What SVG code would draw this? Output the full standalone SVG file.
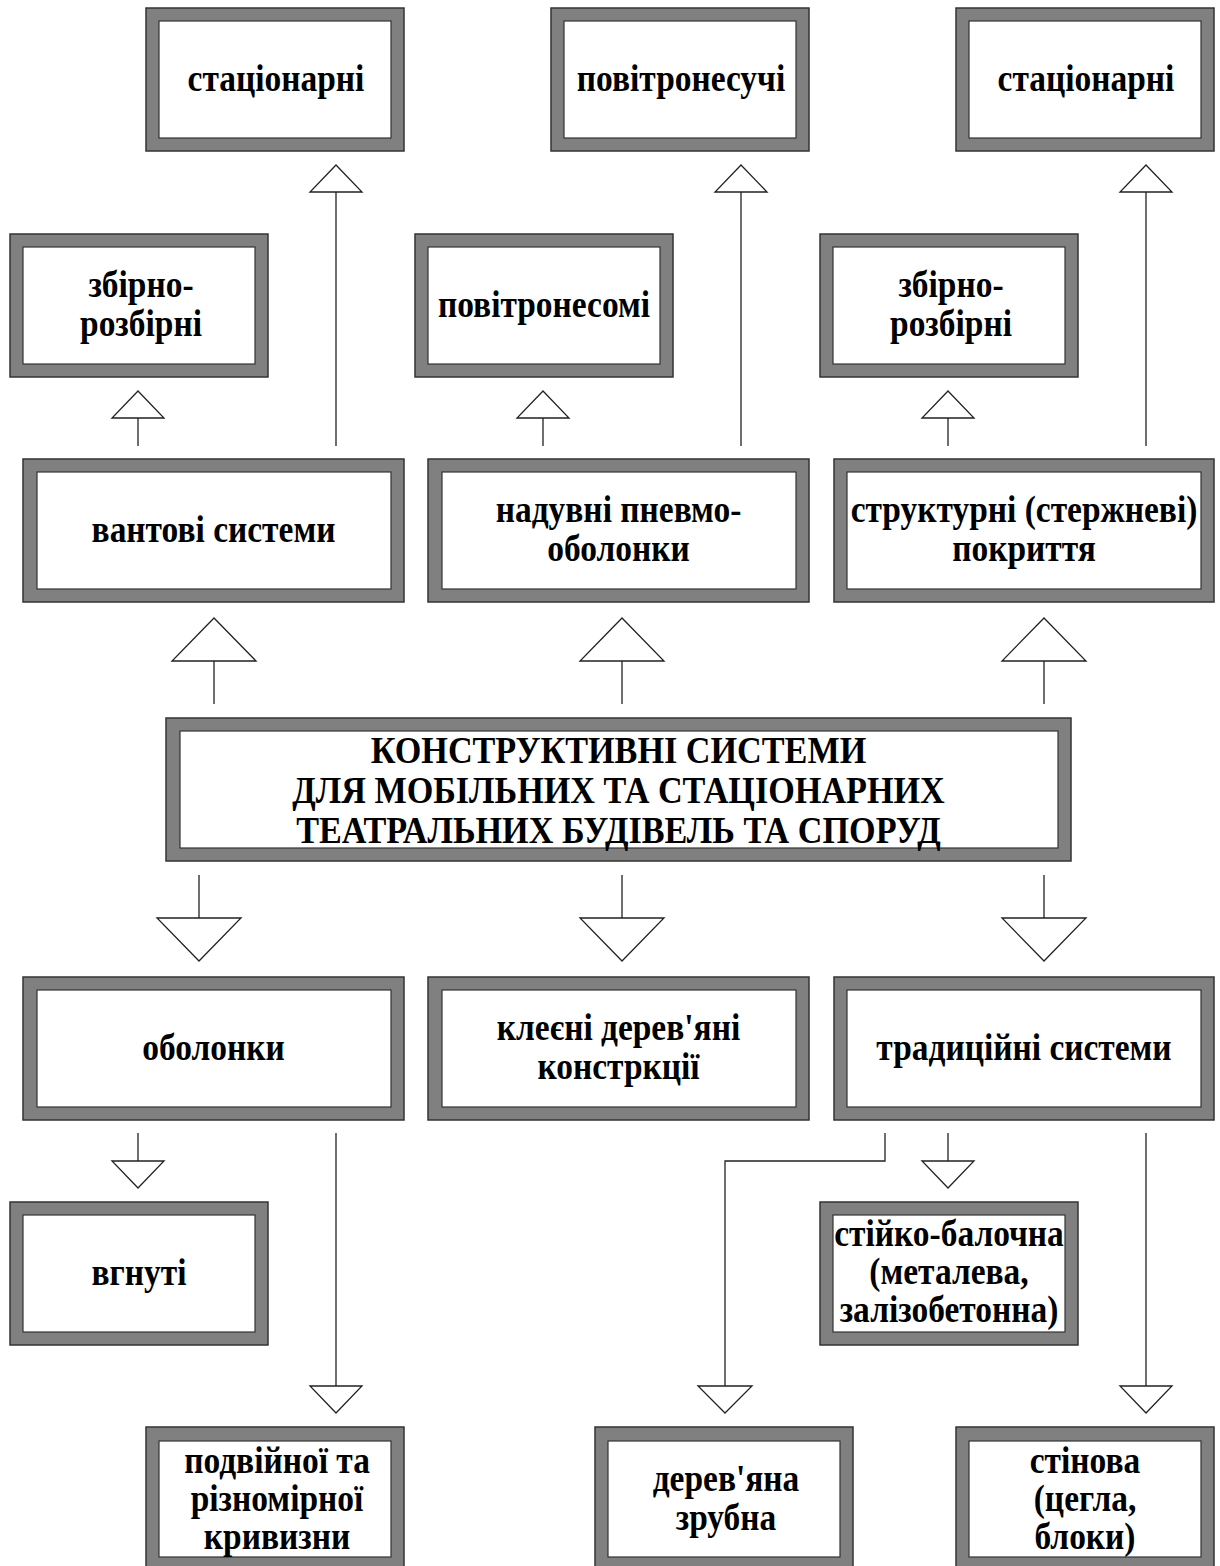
<svg xmlns="http://www.w3.org/2000/svg" width="1220" height="1566" viewBox="0 0 1220 1566">
<style>
.o{fill:#808080;stroke:#333;stroke-width:1.5}
.i{fill:#fff;stroke:#333;stroke-width:1.2}
.t{font-family:"Liberation Serif","Times New Roman",serif;font-weight:bold;font-size:38px;text-anchor:middle;fill:#000}
.l{fill:none;stroke:#222;stroke-width:1.3}
.a{fill:#fff;stroke:#222;stroke-width:1.3;stroke-linejoin:miter}
</style>
<rect width="1220" height="1566" fill="#fff"/>
<g id="connectors">
<path class="l" d="M336 446V192M741 446V192M1146 446V192"/>
<polygon class="a" points="336,165 362,192 310,192"/>
<polygon class="a" points="741,165 767,192 715,192"/>
<polygon class="a" points="1146,165 1172,192 1120,192"/>
<path class="l" d="M138 446V418M543 446V418M948 446V418"/>
<polygon class="a" points="138,391 164,418 112,418"/>
<polygon class="a" points="543,391 569,418 517,418"/>
<polygon class="a" points="948,391 974,418 922,418"/>
<path class="l" d="M214 704V661M622 704V661M1044 704V661"/>
<polygon class="a" points="214,618 256,661 172,661"/>
<polygon class="a" points="622,618 664,661 580,661"/>
<polygon class="a" points="1044,618 1086,661 1002,661"/>
<path class="l" d="M199 875V918M622 875V918M1044 875V918"/>
<polygon class="a" points="157,918 241,918 199,961"/>
<polygon class="a" points="580,918 664,918 622,961"/>
<polygon class="a" points="1002,918 1086,918 1044,961"/>
<path class="l" d="M138 1133V1161M336 1133V1386M885 1133V1161H725V1386M948 1133V1161M1146 1133V1386"/>
<polygon class="a" points="112,1161 164,1161 138,1188"/>
<polygon class="a" points="310,1386 362,1386 336,1413"/>
<polygon class="a" points="698,1386 752,1386 725,1413"/>
<polygon class="a" points="922,1161 974,1161 948,1188"/>
<polygon class="a" points="1120,1386 1172,1386 1146,1413"/>
</g>
<g id="n1"><rect class="o" x="146" y="8" width="258" height="143"/><rect class="i" x="159" y="21" width="232" height="117"/><text class="t" transform="translate(276 0) scale(0.88 1)" y="91">стаціонарні</text></g>
<g id="n2"><rect class="o" x="551" y="8" width="258" height="143"/><rect class="i" x="564" y="21" width="232" height="117"/><text class="t" transform="translate(681 0) scale(0.88 1)" y="91">повітронесучі</text></g>
<g id="n3"><rect class="o" x="956" y="8" width="258" height="143"/><rect class="i" x="969" y="21" width="232" height="117"/><text class="t" transform="translate(1086 0) scale(0.88 1)" y="91">стаціонарні</text></g>
<g id="n4"><rect class="o" x="10" y="234" width="258" height="143"/><rect class="i" x="23" y="247" width="232" height="117"/><text class="t" transform="translate(141 0) scale(0.88 1)"><tspan x="0" y="297">збірно-</tspan><tspan x="0" y="336">розбірні</tspan></text></g>
<g id="n5"><rect class="o" x="415" y="234" width="258" height="143"/><rect class="i" x="428" y="247" width="232" height="117"/><text class="t" transform="translate(544 0) scale(0.88 1)" y="317">повітронесомі</text></g>
<g id="n6"><rect class="o" x="820" y="234" width="258" height="143"/><rect class="i" x="833" y="247" width="232" height="117"/><text class="t" transform="translate(951 0) scale(0.88 1)"><tspan x="0" y="297">збірно-</tspan><tspan x="0" y="336">розбірні</tspan></text></g>
<g id="n7"><rect class="o" x="23" y="459" width="381" height="143"/><rect class="i" x="37" y="472" width="354" height="117"/><text class="t" transform="translate(213.5 0) scale(0.88 1)" y="542">вантові системи</text></g>
<g id="n8"><rect class="o" x="428" y="459" width="381" height="143"/><rect class="i" x="442" y="472" width="354" height="117"/><text class="t" transform="translate(618.5 0) scale(0.88 1)"><tspan x="0" y="522">надувні пневмо-</tspan><tspan x="0" y="561">оболонки</tspan></text></g>
<g id="n9"><rect class="o" x="834" y="459" width="380" height="143"/><rect class="i" x="847" y="472" width="354" height="117"/><text class="t" transform="translate(1024 0) scale(0.88 1)"><tspan x="0" y="522">структурні (стержневі)</tspan><tspan x="0" y="561">покриття</tspan></text></g>
<g id="center"><rect class="o" x="166" y="718" width="905" height="143"/><rect class="i" x="180" y="731" width="878" height="117"/><text class="t" transform="translate(618.5 0) scale(0.9 1)"><tspan x="0" y="763">КОНСТРУКТИВНІ СИСТЕМИ</tspan><tspan x="0" y="803">ДЛЯ МОБІЛЬНИХ ТА СТАЦІОНАРНИХ</tspan><tspan x="0" y="843">ТЕАТРАЛЬНИХ БУДІВЕЛЬ ТА СПОРУД</tspan></text></g>
<g id="n10"><rect class="o" x="23" y="977" width="381" height="143"/><rect class="i" x="37" y="990" width="354" height="117"/><text class="t" transform="translate(213.5 0) scale(0.88 1)" y="1060">оболонки</text></g>
<g id="n11"><rect class="o" x="428" y="977" width="381" height="143"/><rect class="i" x="442" y="990" width="354" height="117"/><text class="t" transform="translate(618.5 0) scale(0.88 1)"><tspan x="0" y="1040">клеєні дерев'яні</tspan><tspan x="0" y="1079">констркції</tspan></text></g>
<g id="n12"><rect class="o" x="834" y="977" width="380" height="143"/><rect class="i" x="847" y="990" width="354" height="117"/><text class="t" transform="translate(1024 0) scale(0.88 1)" y="1060">традиційні системи</text></g>
<g id="n13"><rect class="o" x="10" y="1202" width="258" height="143"/><rect class="i" x="23" y="1215" width="232" height="117"/><text class="t" transform="translate(139 0) scale(0.88 1)" y="1285">вгнуті</text></g>
<g id="n14"><rect class="o" x="820" y="1202" width="258" height="143"/><rect class="i" x="833" y="1215" width="232" height="117"/><text class="t" transform="translate(949 0) scale(0.88 1)"><tspan x="0" y="1246">стійко-балочна</tspan><tspan x="0" y="1284">(металева,</tspan><tspan x="0" y="1322">залізобетонна)</tspan></text></g>
<g id="n15"><rect class="o" x="146" y="1427" width="258" height="143"/><rect class="i" x="159" y="1441" width="232" height="116"/><text class="t" transform="translate(277 0) scale(0.88 1)"><tspan x="0" y="1473">подвійної та</tspan><tspan x="0" y="1511">різномірної</tspan><tspan x="0" y="1549">кривизни</tspan></text></g>
<g id="n16"><rect class="o" x="595" y="1427" width="258" height="143"/><rect class="i" x="608" y="1441" width="232" height="116"/><text class="t" transform="translate(726 0) scale(0.88 1)"><tspan x="0" y="1491">дерев'яна</tspan><tspan x="0" y="1530">зрубна</tspan></text></g>
<g id="n17"><rect class="o" x="956" y="1427" width="258" height="143"/><rect class="i" x="969" y="1441" width="232" height="116"/><text class="t" transform="translate(1085 0) scale(0.88 1)"><tspan x="0" y="1473">стінова</tspan><tspan x="0" y="1511">(цегла,</tspan><tspan x="0" y="1549">блоки)</tspan></text></g>
</svg>
